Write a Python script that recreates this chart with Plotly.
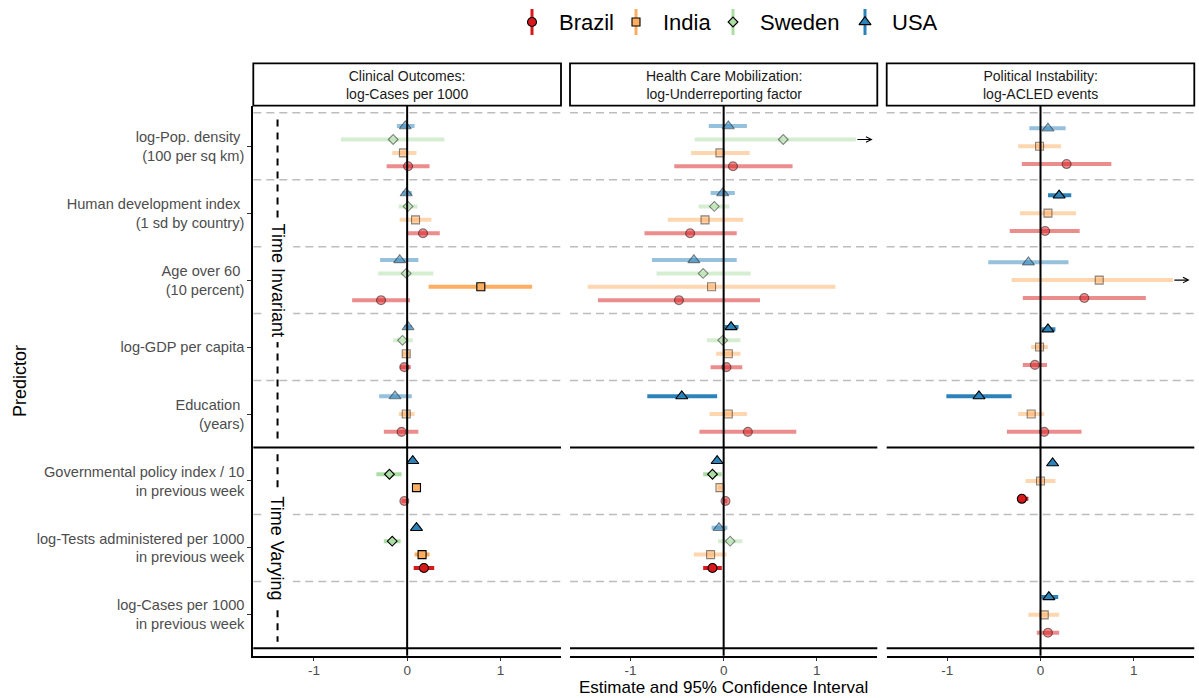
import plotly.graph_objects as go

# ---------------- data ----------------
countries = ["Brazil", "India", "Sweden", "USA"]
predictors = [
    "log-Pop. density\u00a0<br>(100 per sq km)",
    "Human development index\u00a0<br>(1 sd by country)",
    "Age over 60\u00a0<br>(10 percent)",
    "log-GDP per capita",
    "Education\u00a0<br>(years)",
    "Governmental policy index / 10<br>in previous week",
    "log-Tests administered per 1000<br>in previous week",
    "log-Cases per 1000<br>in previous week",
]
panel_titles = [
    "Clinical Outcomes:<br>log-Cases per 1000",
    "Health Care Mobilization:<br>log-Underreporting factor",
    "Political Instability:<br>log-ACLED events",
]
N = None

# Panel 1: Clinical outcomes
cases_est = {"Brazil": [0.01, 0.17, -0.28, -0.03, -0.06, -0.03, 0.18, N],
             "India": [-0.04, 0.09, 0.79, -0.01, -0.01, 0.10, 0.16, N],
             "Sweden": [-0.15, 0.01, -0.01, -0.05, N, -0.19, -0.16, N],
             "USA": [-0.02, -0.01, -0.08, 0.01, -0.13, 0.06, 0.10, N]}
cases_lo = {"Brazil": [-0.22, -0.01, -0.59, -0.08, -0.25, -0.06, 0.07, N],
            "India": [-0.16, -0.08, 0.23, -0.05, -0.09, 0.07, 0.08, N],
            "Sweden": [-0.71, -0.09, -0.31, -0.15, N, -0.33, -0.25, N],
            "USA": [-0.11, -0.05, -0.29, -0.03, -0.30, 0.03, 0.06, N]}
cases_hi = {"Brazil": [0.24, 0.35, 0.03, 0.04, 0.12, 0.01, 0.29, N],
            "India": [0.10, 0.26, 1.34, 0.03, 0.08, 0.12, 0.24, N],
            "Sweden": [0.40, 0.11, 0.28, 0.06, N, -0.06, -0.07, N],
            "USA": [0.08, 0.05, 0.12, 0.05, 0.05, 0.09, 0.14, N]}

# Panel 2: Health care mobilization
under_est = {"Brazil": [0.10, -0.36, -0.48, 0.03, 0.26, 0.02, -0.12, N],
             "India": [-0.04, -0.20, -0.13, 0.05, 0.05, -0.04, -0.14, N],
             "Sweden": [0.64, -0.10, -0.22, -0.01, N, -0.12, 0.07, N],
             "USA": [0.05, -0.01, -0.32, 0.08, -0.45, -0.07, -0.05, N]}
under_lo = {"Brazil": [-0.53, -0.85, -1.35, -0.14, -0.26, -0.01, -0.22, N],
            "India": [-0.35, -0.60, -1.46, -0.08, -0.15, -0.06, -0.32, N],
            "Sweden": [-0.31, -0.27, -0.72, -0.18, N, -0.22, -0.06, N],
            "USA": [-0.16, -0.14, -0.77, 0.01, -0.82, -0.10, -0.13, N]}
under_hi = {"Brazil": [0.74, 0.14, 0.39, 0.20, 0.78, 0.04, -0.02, N],
            "India": [0.28, 0.21, 1.20, 0.18, 0.25, 0.01, 0.03, N],
            "Sweden": [1.90, 0.06, 0.29, 0.18, N, -0.02, 0.20, N],
            "USA": [0.25, 0.12, 0.14, 0.16, -0.07, -0.04, 0.04, N]}

# Panel 3: Political instability
acled_est = {"Brazil": [0.28, 0.05, 0.47, -0.06, 0.04, -0.20, N, 0.08],
             "India": [-0.01, 0.08, 0.63, -0.01, -0.10, 0.00, N, 0.04],
             "Sweden": [N] * 8,
             "USA": [0.08, 0.20, -0.13, 0.08, -0.66, 0.13, N, 0.09]}
acled_lo = {"Brazil": [-0.20, -0.33, -0.19, -0.19, -0.36, -0.25, N, -0.04],
            "India": [-0.24, -0.22, -0.31, -0.10, -0.24, -0.16, N, -0.13],
            "Sweden": [N] * 8,
            "USA": [-0.12, 0.08, -0.56, 0.01, -1.01, 0.10, N, 0.01]}
acled_hi = {"Brazil": [0.76, 0.42, 1.13, 0.07, 0.44, -0.13, N, 0.20],
            "India": [0.22, 0.38, 1.90, 0.08, 0.04, 0.16, N, 0.20],
            "Sweden": [N] * 8,
            "USA": [0.27, 0.33, 0.30, 0.16, -0.31, 0.16, N, 0.19]}

panels = [(cases_est, cases_lo, cases_hi),
          (under_est, under_lo, under_hi),
          (acled_est, acled_lo, acled_hi)]

# ---------------- style ----------------
colors = {"Brazil": (215, 25, 28), "India": (253, 174, 97),
          "Sweden": (171, 221, 164), "USA": (43, 131, 186)}
symbols = {"Brazil": "circle", "India": "square", "Sweden": "diamond", "USA": "triangle-up"}
msize = {"Brazil": 9, "India": 8, "Sweden": 7.5, "USA": 10.5}
dodge_order = ["USA", "Sweden", "India", "Brazil"]
FONT = "Liberation Sans, Arial, sans-serif"
FADE = 0.5
CLIP, ARROW_END = 1.42, 1.6

W, H = 1199, 698
def px(x): return x / W
def py(y): return 1 - y / H

panel_x = [(253.3, 561.0), (570.0, 877.3), (886.7, 1194.3)]
panel_top, panel_bot = 105.7, 655.7
strip_top = 63.3
XR = [-1.65, 1.65]
YR = [7.61, -0.605]

def rgba(c, a):
    return "rgba(%d,%d,%d,%s)" % (c[0], c[1], c[2], a)

fig = go.Figure()
layout = dict(width=W, height=H, margin=dict(l=0, r=0, t=0, b=0),
              paper_bgcolor="white", plot_bgcolor="white", showlegend=False,
              font=dict(family=FONT, color="#4D4D4D"))
shapes, annotations = [], []

for k, (est, lo, hi) in enumerate(panels):
    sfx = "" if k == 0 else str(k + 1)
    xa, ya = "x" + sfx, "y" + sfx
    x0p, x1p = panel_x[k]
    layout["xaxis" + sfx] = dict(
        domain=[px(x0p), px(x1p)], range=XR, anchor=ya, tickvals=[-1, 0, 1],
        ticktext=["-1", "0", "1"], showline=True, linecolor="black", linewidth=2,
        ticks="outside", ticklen=3, tickcolor="#333333", tickwidth=1,
        ticklabelstandoff=-2,
        tickfont=dict(size=13.5, color="#4D4D4D", family=FONT),
        showgrid=False, zeroline=False, fixedrange=True)
    yd = dict(domain=[py(panel_bot), py(panel_top)], range=YR, anchor=xa,
              showgrid=False, zeroline=False, fixedrange=True)
    if k == 0:
        yd.update(showline=True, linecolor="black", linewidth=2, ticks="outside",
                  ticklen=4, tickcolor="#333333", tickwidth=1,
                  tickvals=list(range(len(predictors))), ticktext=predictors,
                  tickfont=dict(size=14.6, color="#4D4D4D", family=FONT))
    else:
        yd.update(showline=False, showticklabels=False, ticks="")
    layout["yaxis" + sfx] = yd

    # separators
    for b in [r - 0.5 for r in range(len(predictors) + 1)]:
        solid = b in (4.5, 7.5)
        shapes.append(dict(type="line", xref=xa + " domain", yref=ya, x0=0, x1=1, y0=b, y1=b,
                           line=dict(color="black" if solid else "#BDBDBD",
                                     width=2 if solid else 1.5,
                                     dash="solid" if solid else "8px,5px"), layer="below"))
    # zero line
    shapes.append(dict(type="line", xref=xa, yref=ya + " domain", x0=0, x1=0, y0=0, y1=1,
                       line=dict(color="black", width=2), layer="above"))
    # strip
    shapes.append(dict(type="rect", xref="paper", yref="paper", x0=px(x0p), x1=px(x1p),
                       y0=py(panel_top), y1=py(strip_top), line=dict(color="black", width=1.8),
                       fillcolor="white"))
    annotations.append(dict(xref="paper", yref="paper", x=px((x0p + x1p) / 2),
                            y=py((strip_top + panel_top) / 2), text=panel_titles[k],
                            showarrow=False, xanchor="center", yanchor="middle",
                            font=dict(size=14, color="#1A1A1A", family=FONT)))

    # dodge positions
    ypos = {c: [None] * len(predictors) for c in countries}
    for r in range(len(predictors)):
        present = [c for c in dodge_order if est[c][r] is not None]
        n = len(present)
        for j, c in enumerate(present):
            ypos[c][r] = r + (j - (n - 1) / 2) * 0.8 / n

    for sig_pass in (False, True):
        for c in countries:
            xs, ys, ep, em = [], [], [], []
            for r in range(len(predictors)):
                e = est[c][r]
                if e is None:
                    continue
                sig = lo[c][r] > 0 or hi[c][r] < 0
                if sig != sig_pass:
                    continue
                h = min(hi[c][r], CLIP)
                xs.append(e); ys.append(ypos[c][r])
                ep.append(h - e); em.append(e - lo[c][r])
                if hi[c][r] > CLIP:
                    annotations.append(dict(x=ARROW_END, y=ypos[c][r], ax=CLIP, ay=ypos[c][r],
                                            xref=xa, yref=ya, axref=xa, ayref=ya, text="",
                                            showarrow=True, arrowhead=5, arrowsize=0.9,
                                            arrowwidth=1.2, arrowcolor="black"))
            if not xs:
                continue
            a = 1 if sig_pass else FADE
            fig.add_trace(go.Scatter(
                x=xs, y=ys, xaxis=xa, yaxis=ya, mode="markers", name=c,
                error_x=dict(type="data", symmetric=False, array=ep, arrayminus=em,
                             thickness=4, width=0, color=rgba(colors[c], a)),
                marker=dict(symbol=symbols[c], size=msize[c], color=rgba(colors[c], a),
                            line=dict(color="black" if sig_pass else "rgba(0,0,0,0.45)",
                                      width=1.1)),
                hoverinfo="skip"))

# Time Invariant / Time Varying markers in first panel
for label, yc, y0, y1 in [("Time Invariant", 2.0, -0.4, 4.4), ("Time Varying", 6.0, 4.6, 7.4)]:
    shapes.append(dict(type="line", xref="x", yref="y", x0=-1.39, x1=-1.39, y0=y0, y1=y1,
                       line=dict(color="black", width=2, dash="7px,6px")))
    annotations.append(dict(xref="x", yref="y", x=-1.39, y=yc, text=label, textangle=90,
                            showarrow=False, bgcolor="white", borderpad=5,
                            xanchor="center", yanchor="middle",
                            font=dict(size=18, color="black", family=FONT)))

# axis titles
annotations.append(dict(xref="paper", yref="paper", x=px(20), y=py(381), text="Predictor",
                        textangle=-90, showarrow=False, xanchor="center", yanchor="middle",
                        font=dict(size=18, color="black", family=FONT)))
annotations.append(dict(xref="paper", yref="paper", x=px(723.7), y=py(687.5),
                        text="Estimate and 95% Confidence Interval", showarrow=False,
                        xanchor="center", yanchor="middle",
                        font=dict(size=17, color="black", family=FONT)))

# custom legend (glyph = vertical pointrange)
layout["xaxis4"] = dict(domain=[0, 1], range=[0, W], visible=False, fixedrange=True, anchor="y4")
layout["yaxis4"] = dict(domain=[py(45), 1], range=[45, 0], visible=False, fixedrange=True, anchor="x4")
legend_glyph_x = {"Brazil": 532, "India": 636, "Sweden": 733, "USA": 865}
for c in countries:
    gx = legend_glyph_x[c]
    fig.add_trace(go.Scatter(x=[gx, gx], y=[9, 35], xaxis="x4", yaxis="y4", mode="lines",
                             line=dict(color=rgba(colors[c], 1), width=3), hoverinfo="skip"))
    fig.add_trace(go.Scatter(x=[gx], y=[22], xaxis="x4", yaxis="y4", mode="markers",
                             marker=dict(symbol=symbols[c], size=msize[c], color=rgba(colors[c], 1),
                                         line=dict(color="black", width=1.1)), hoverinfo="skip"))
    annotations.append(dict(xref="x4", yref="y4", x=gx + 25, y=22, text=c, showarrow=False,
                            xanchor="left", yanchor="middle",
                            font=dict(size=22, color="black", family=FONT)))

layout["shapes"] = shapes
layout["annotations"] = annotations
fig.update_layout(**layout)
fig.write_html("out.html", config={"displayModeBar": False},
               post_script="document.body.style.margin='0px';")
